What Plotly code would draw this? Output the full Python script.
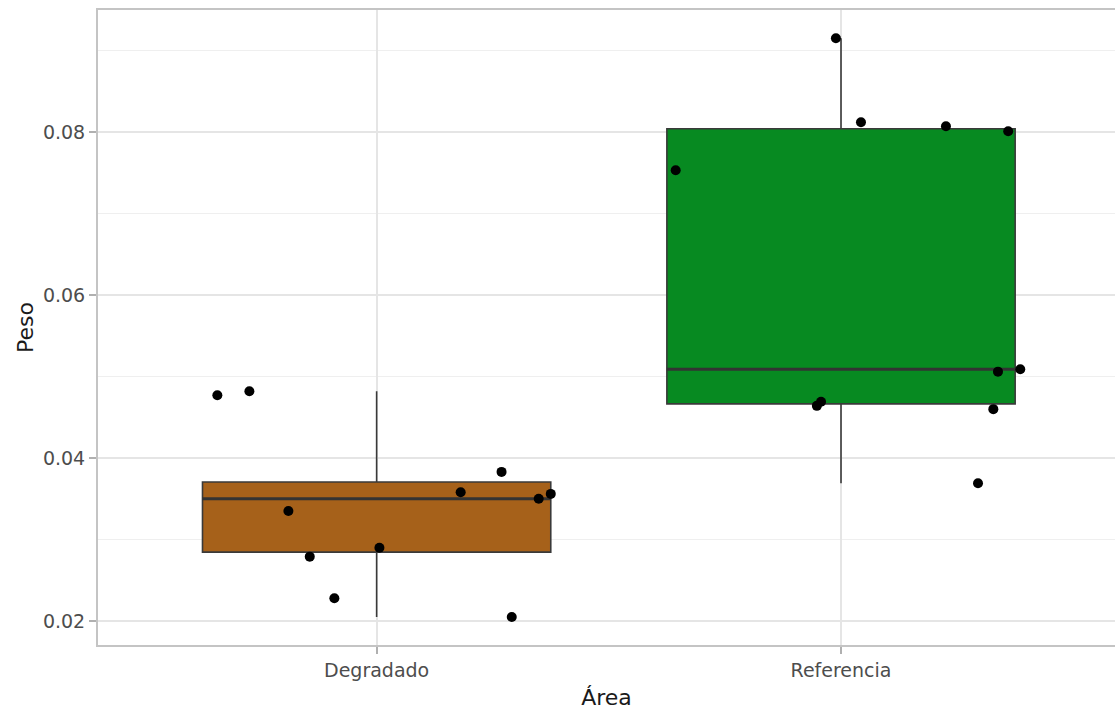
import numpy as np
import plotly.graph_objects as go

categories = ["Degradado", "Referencia"]
box_colors = ["#A6611A", "#078A21"]

degradado_peso = [0.0477, 0.0482, 0.0335, 0.0279, 0.0228, 0.0290, 0.0358, 0.0383, 0.0205, 0.0350, 0.0356]
degradado_jitter = [-0.343, -0.274, -0.190, -0.144, -0.091, 0.006, 0.181, 0.269, 0.291, 0.349, 0.375]

referencia_peso = [0.0753, 0.0464, 0.0469, 0.0915, 0.0812, 0.0807, 0.0369, 0.0460, 0.0506, 0.0801, 0.0509]
referencia_jitter = [-0.356, -0.052, -0.043, -0.011, 0.043, 0.226, 0.295, 0.328, 0.338, 0.360, 0.386]

y_ticks = [0.02, 0.04, 0.06, 0.08]

series = [degradado_peso, referencia_peso]
jitters = [degradado_jitter, referencia_jitter]
BOX_W = 0.75

fig = go.Figure()
for i, (name, vals, col) in enumerate(zip(categories, series, box_colors)):
    pos = i + 1
    fig.add_trace(go.Box(
        x=[pos] * len(vals), y=vals, name=name,
        fillcolor=col, line=dict(color="#3a3a3a", width=1.6),
        boxpoints=False, quartilemethod="inclusive",
        width=BOX_W, whiskerwidth=0, showlegend=False, hoverinfo="skip",
    ))
    med = float(np.median(vals))
    fig.add_trace(go.Scatter(
        x=[pos - BOX_W / 2, pos + BOX_W / 2], y=[med, med], mode="lines",
        line=dict(color="#333333", width=3), showlegend=False, hoverinfo="skip",
    ))

for i, (vals, jit) in enumerate(zip(series, jitters)):
    pos = i + 1
    fig.add_trace(go.Scatter(
        x=[pos + j for j in jit], y=vals, mode="markers",
        marker=dict(color="black", size=10), showlegend=False,
    ))

fig.update_layout(
    width=1115, height=713,
    margin=dict(l=98, r=0, t=10, b=68),
    paper_bgcolor="white", plot_bgcolor="white",
    font=dict(family="DejaVu Sans", color="#4d4d4d", size=19),
)
fig.update_xaxes(
    range=[0.4, 2.59], tickvals=[1, 2], ticktext=categories,
    showgrid=True, gridcolor="#e5e5e5", gridwidth=2,
    showline=True, linecolor="#c4c4c4", linewidth=2, mirror=True,
    ticks="outside", ticklen=7, tickcolor="#b0b0b0", tickwidth=2,
    zeroline=False,
    title=dict(text="Área", font=dict(size=22, color="#1a1a1a"), standoff=10),
)
fig.update_yaxes(
    range=[0.01706, 0.09497], tickvals=y_ticks, ticktext=[f"{v:.2f}" for v in y_ticks],
    showgrid=True, gridcolor="#e5e5e5", gridwidth=2,
    minor=dict(dtick=0.01, tick0=0.01, showgrid=True, gridcolor="#efefef", gridwidth=1, ticks=""),
    showline=True, linecolor="#c4c4c4", linewidth=2, mirror=False,
    ticks="outside", ticklen=7, tickcolor="#b0b0b0", tickwidth=2,
    zeroline=False,
    title=dict(text="Peso", font=dict(size=22, color="#1a1a1a"), standoff=3),
)

fig.write_html(
    "out.html",
    config={"displayModeBar": False},
    post_script="document.body.style.margin='0';document.body.style.overflow='hidden';",
)
